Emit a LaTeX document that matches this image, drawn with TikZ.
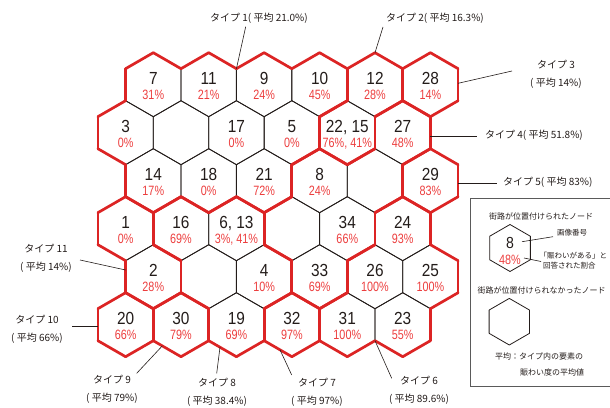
\documentclass[tikz,border=0pt]{standalone}
\usepackage{fontspec}
\setmainfont{Noto Sans CJK JP}
\newfontfamily\numfont[FakeStretch=0.88]{Liberation Sans}
\newfontfamily\pctfont[FakeStretch=0.8]{Liberation Sans}
\usetikzlibrary{calc}
\definecolor{hexred}{RGB}{220,36,36}
\definecolor{txtred}{RGB}{236,62,62}
\definecolor{ink}{RGB}{35,28,26}
\definecolor{boxgray}{RGB}{90,90,90}
\newcommand\hexat[3][hexline]{\draw[#1] ($(#2)+(90:#3)$) -- ($(#2)+(30:#3)$) -- ($(#2)+(-30:#3)$) -- ($(#2)+(-90:#3)$) -- ($(#2)+(-150:#3)$) -- ($(#2)+(150:#3)$) -- cycle;}
\newcommand\cellN[5]{\coordinate (c#1) at (#2,#3);
  \node[num] (n#1) at (#2,#3) {#4};
  \node[pct] (p#1) at (#2,#3-15.3) {#5};}
\newcommand\cellB[3]{\coordinate (c#1) at (#2,#3);}
\newcommand\redges[2]{\foreach \k in {#2}{\draw[redline] ($(c#1)+({90-60*\k}:32)$) -- ($(c#1)+({30-60*\k}:32)$);}}
\begin{document}
\begin{tikzpicture}[x=1pt,y=1pt,
  hexline/.style={draw=ink,line width=0.8pt,line join=round},
  redline/.style={draw=hexred,line width=2.7pt,line cap=round},
  num/.style={anchor=base,inner sep=0pt,text=ink,font=\numfont\fontsize{17.5}{18}\selectfont},
  pct/.style={anchor=base,inner sep=0pt,text=txtred,font=\pctfont\fontsize{13.5}{14}\selectfont},
  lab/.style={inner sep=0pt,text=ink,font=\fontsize{10}{18}\selectfont},
  lab2/.style={lab,align=center},
  leg/.style={inner sep=0pt,text=ink,font=\fontsize{8}{10}\selectfont},
  legs/.style={inner sep=0pt,text=ink,font=\fontsize{7.5}{9}\selectfont},
  conn/.style={draw=ink,line width=0.6pt},
  boxline/.style={draw=boxgray,line width=0.8pt}]
\useasboundingbox (0,0) rectangle (610,407);
% cells
\cellN{11}{153.3}{322.3}{7}{31\%}
\cellN{12}{208.7}{322.3}{11}{21\%}
\cellN{13}{264.1}{322.3}{9}{24\%}
\cellN{14}{319.6}{322.3}{10}{45\%}
\cellN{15}{375.0}{322.3}{12}{28\%}
\cellN{16}{430.4}{322.3}{28}{14\%}
\cellN{21}{125.6}{274.3}{3}{0\%}
\cellB{22}{181.0}{274.3}
\cellN{23}{236.4}{274.3}{17}{0\%}
\cellN{24}{291.9}{274.3}{5}{0\%}
\cellN{25}{347.3}{274.3}{22, 15}{76\%, 41\%}
\cellN{26}{402.7}{274.3}{27}{48\%}
\cellN{31}{153.3}{226.3}{14}{17\%}
\cellN{32}{208.7}{226.3}{18}{0\%}
\cellN{33}{264.1}{226.3}{21}{72\%}
\cellN{34}{319.6}{226.3}{8}{24\%}
\cellB{35}{375.0}{226.3}
\cellN{36}{430.4}{226.3}{29}{83\%}
\cellN{41}{125.6}{178.3}{1}{0\%}
\cellN{42}{181.0}{178.3}{16}{69\%}
\cellN{43}{236.4}{178.3}{6, 13}{3\%, 41\%}
\cellB{44}{291.9}{178.3}
\cellN{45}{347.3}{178.3}{34}{66\%}
\cellN{46}{402.7}{178.3}{24}{93\%}
\cellN{51}{153.3}{130.3}{2}{28\%}
\cellB{52}{208.7}{130.3}
\cellN{53}{264.1}{130.3}{4}{10\%}
\cellN{54}{319.6}{130.3}{33}{69\%}
\cellN{55}{375.0}{130.3}{26}{100\%}
\cellN{56}{430.4}{130.3}{25}{100\%}
\cellN{61}{125.6}{82.3}{20}{66\%}
\cellN{62}{181.0}{82.3}{30}{79\%}
\cellN{63}{236.4}{82.3}{19}{69\%}
\cellN{64}{291.9}{82.3}{32}{97\%}
\cellN{65}{347.3}{82.3}{31}{100\%}
\cellN{66}{402.7}{82.3}{23}{55\%}
% black grid
\foreach \c in {11,12,13,14,15,16,21,22,23,24,25,26,31,32,33,34,35,36,41,42,43,44,45,46,51,52,53,54,55,56,61,62,63,64,65,66}{\hexat{c\c}{32}}
% red group borders
\redges{11}{0,4,5}
\redges{12}{0,5}
\redges{13}{0,5}
\redges{14}{0,1,2,5}
\redges{15}{0,1,2,4,5}
\redges{16}{0,1,2,3,4,5}
\redges{21}{3,4,5}
\redges{24}{1,2}
\redges{25}{1,2,3,4,5}
\redges{26}{0,1,2,4,5}
\redges{31}{2,3,4}
\redges{32}{2,3}
\redges{33}{1,2,3}
\redges{34}{0,4,5}
\redges{35}{1,2,5}
\redges{36}{0,1,2,3,4,5}
\redges{41}{0,1,3,4,5}
\redges{42}{0,3,4,5}
\redges{43}{0,1,5}
\redges{44}{3,4,5}
\redges{45}{1,2}
\redges{46}{0,1,4,5}
\redges{51}{0,1,2,3,4}
\redges{52}{3,4}
\redges{53}{0,1,2}
\redges{54}{1,2,3,4}
\redges{55}{4,5}
\redges{56}{0,1,2}
\redges{61}{0,1,2,3,4,5}
\redges{62}{0,1,2,3,4,5}
\redges{63}{1,2,3,4}
\redges{64}{0,1,2,3,4,5}
\redges{65}{2,3,4,5}
\redges{66}{1,2,3}
% type labels
\node[lab] (t1) at (259,389) {タイプ 1( 平均 21.0\%)};
\coordinate (t1e) at (245.7,380.3);
\draw[conn] (t1e) -- ($(c12)+(30:32)$);
\node[lab] (t2) at (435,389) {タイプ 2( 平均 16.3\%)};
\coordinate (t2e) at (383,380);
\draw[conn] (t2e) -- ($(c15)+(90:32)$);
\node[lab2] (t3) at (556,333) {タイプ 3\\( 平均 14\%)};
\coordinate (t3e) at (512,336);
\draw[conn] (t3e) -- ($(c16)+(27.71,1.4)$);
\node[lab,anchor=west] (t4) at (485,272) {タイプ 4( 平均 51.8\%)};
\coordinate (t4e) at (477,271);
\draw[conn] ($(c26)+(27.71,-3.3)$) -- (t4e);
\node[lab,anchor=west] (t5) at (503,224.3) {タイプ 5( 平均 83\%)};
\coordinate (t5e) at (497,224);
\draw[conn] ($(c36)+(27.71,-2.3)$) -- (t5e);
\node[lab2] (t11) at (46,149) {タイプ 11\\( 平均 14\%)};
\coordinate (t11e) at (80,147);
\draw[conn] (t11e) -- ($(c51)+(-27.71,6.7)$);
\node[lab2] (t10) at (37,78) {タイプ 10\\( 平均 66\%)};
\coordinate (t10e) at (72,81);
\draw[conn] (t10e) -- ($(c61)+(-27.71,-1.3)$);
\node[lab2] (t9) at (112,17.2) {タイプ 9\\( 平均 79\%)};
\coordinate (t9e) at (136.7,33.7);
\draw[conn] (t9e) -- ($(c62)+(-18.7,-21.2)$);
\node[lab2] (t8) at (217,14.7) {タイプ 8\\( 平均 38.4\%)};
\coordinate (t8e) at (216.7,33.7);
\draw[conn] (t8e) -- ($(c63)+(-16.4,-22.5)$);
\node[lab2] (t7) at (317,14.7) {タイプ 7\\( 平均 97\%)};
\coordinate (t7e) at (291.7,32);
\draw[conn] (t7e) -- ($(c64)+(-11.9,-25.1)$);
\node[lab2] (t6) at (419,16.2) {タイプ 6\\( 平均 89.6\%)};
\coordinate (t6e) at (391.7,28.7);
\draw[conn] (t6e) -- ($(c65)+(-30:32)$);
% legend
\draw[boxline] (612,208.7) -- (470,208.7) -- (470,20.3) -- (612,20.3);
\node[leg] (lg1) at (541,191) {街路が位置付けられたノード};
\coordinate (lh1) at (510,159);
\hexat{lh1}{23.5}
\node[num,font=\numfont\fontsize{16}{16}\selectfont] (l8) at (510,158.7) {8};
\node[pct] (l48) at (510,142) {48\%};
\node[legs,anchor=west] (limg) at (557,174) {画像番号};
\coordinate (limgs) at (522,165.3);
\coordinate (limge) at (553,170.3);
\draw[conn] (limgs) -- (limge);
\node[legs,anchor=west] (lans1) at (539.5,151) {「賑わいがある」と};
\node[legs,anchor=west] (lans2) at (543,141) {回答された割合};
\coordinate (lanss) at (524,149);
\coordinate (lanse) at (541,145.5);
\draw[conn] (lanss) -- (lanse);
\node[leg] (lg2) at (541.5,117) {街路が位置付けられなかったノード};
\coordinate (lh2) at (509.3,85.3);
\hexat{lh2}{23.3}
\node[leg,anchor=west] (lavg1) at (495,51) {平均：タイプ内の要素の};
\node[leg,anchor=west] (lavg2) at (520,34.3) {賑わい度の平均値};
\end{tikzpicture}
\end{document}
